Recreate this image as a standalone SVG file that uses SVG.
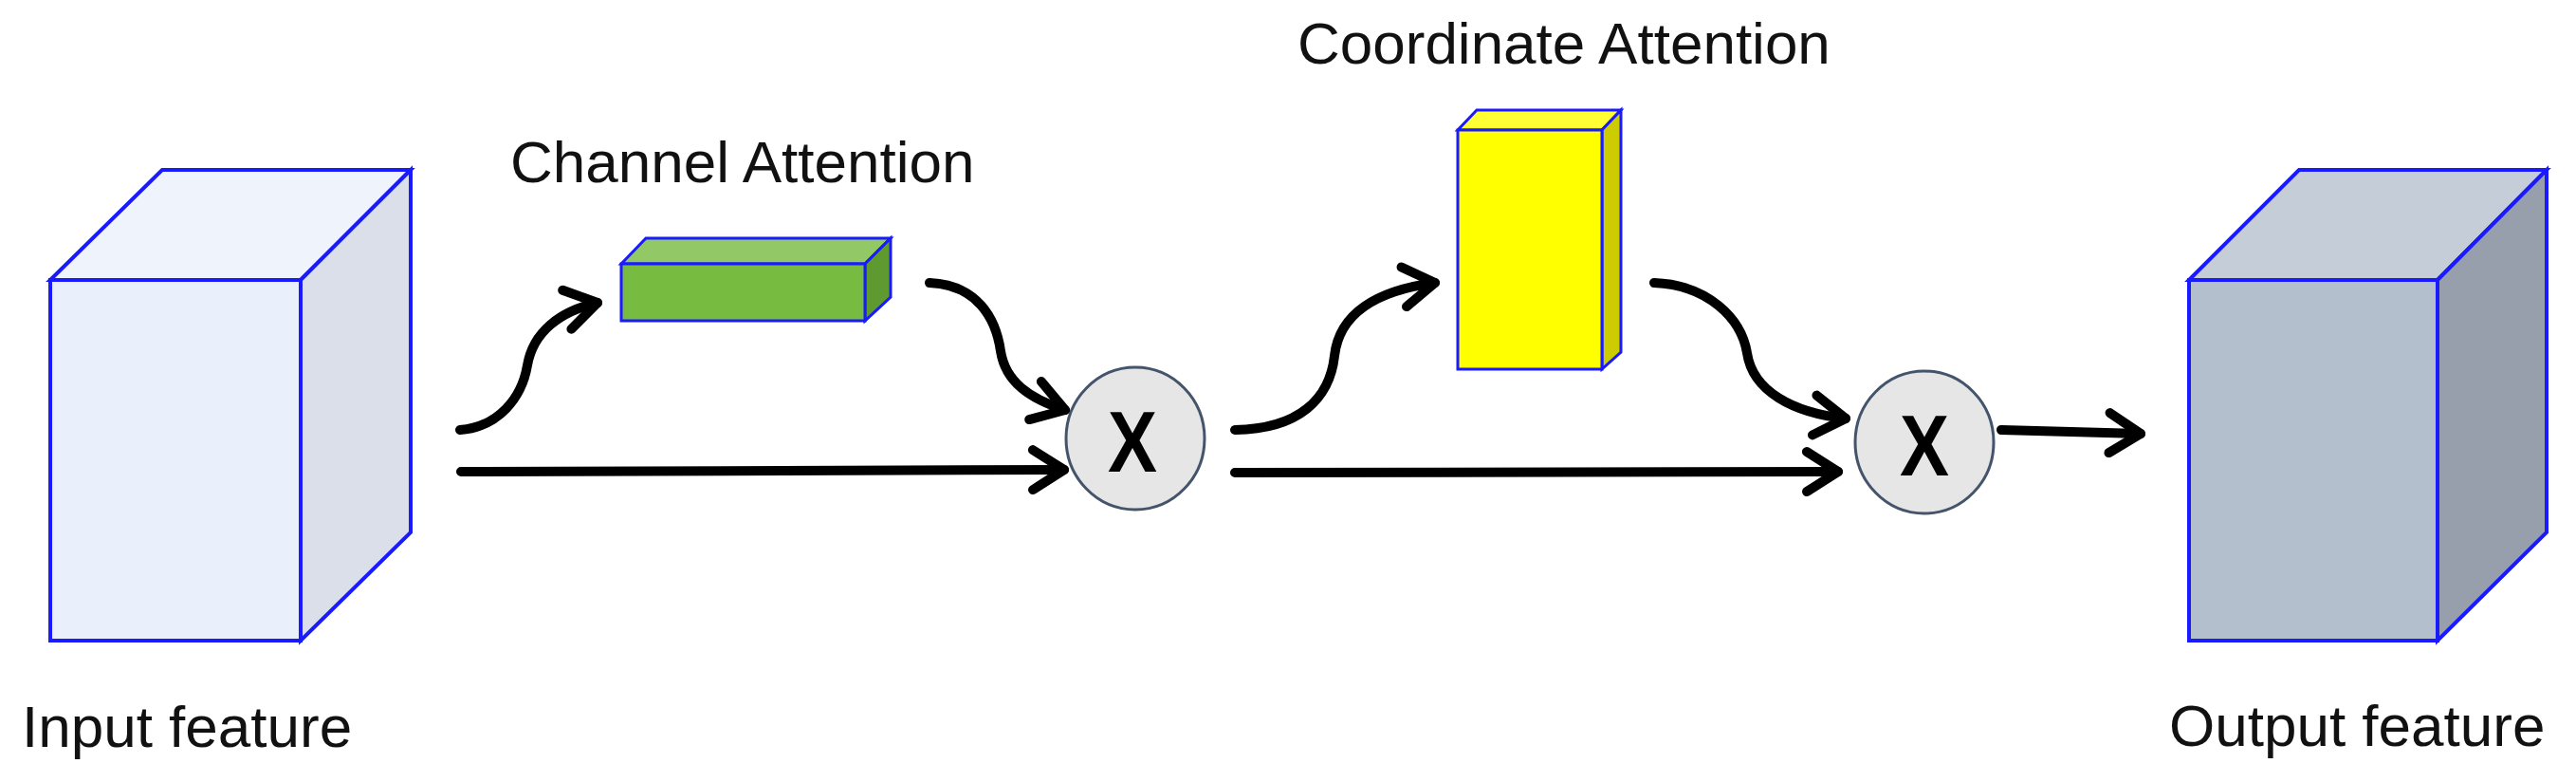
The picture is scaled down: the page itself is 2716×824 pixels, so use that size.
<svg xmlns="http://www.w3.org/2000/svg" width="2716" height="824" viewBox="0 0 2716 824">
<style>
.lbl{font-family:"Liberation Sans",Arial,sans-serif;font-size:62px;fill:#111}
.x{font-family:"Liberation Sans",Arial,sans-serif;font-size:90px;font-weight:bold;fill:#000}
.edge{stroke:#1a1aff;stroke-width:4;stroke-linejoin:miter}
.thin{stroke-width:3}
.conn{fill:none;stroke:#000;stroke-width:10;stroke-linecap:round}
.op{fill:#e6e6e6;stroke:#44546a;stroke-width:3}
</style>
<defs>
<marker id="chev" markerUnits="strokeWidth" viewBox="-5 -4 6 8" refX="0" refY="0" markerWidth="6" markerHeight="8" orient="auto" overflow="visible">
<path d="M-3.3,-2.1 L0,0 L-3.3,2.1" fill="none" stroke="#000" stroke-width="1" stroke-linecap="round" stroke-linejoin="round"/>
</marker>
</defs>
<rect width="2716" height="824" fill="#fff"/>
<g id="input-feature">
<polygon class="edge" points="53,295 171,179 433,179 317,295" fill="#eef3fc"/>
<polygon class="edge" points="317,295 433,179 433,561 317,675" fill="#dadfe9"/>
<rect class="edge" x="53" y="295" width="264" height="380" fill="#eaf0fb"/>
<text class="lbl" x="23" y="787">Input feature</text>
</g>
<g id="channel-attention">
<polygon class="edge thin" points="655,278 681,251 939,251 912,278" fill="#92c865"/>
<polygon class="edge thin" points="912,278 939,251 939,313 912,338" fill="#5e9a30"/>
<rect class="edge thin" x="655" y="278" width="257" height="60" fill="#77bb41"/>
<text class="lbl" x="538" y="192">Channel Attention</text>
</g>
<g id="coordinate-attention">
<polygon class="edge thin" points="1537,137 1557,116 1709,116 1689,137" fill="#ffff33"/>
<polygon class="edge thin" points="1689,137 1709,116 1709,371 1689,389" fill="#cccc00"/>
<rect class="edge thin" x="1537" y="137" width="152" height="252" fill="#ffff00"/>
<text class="lbl" x="1368" y="67">Coordinate Attention</text>
</g>
<g id="multiply-1">
<ellipse class="op" cx="1197" cy="462" rx="73" ry="75"/>
<text class="x" x="1168" y="497" textLength="52" lengthAdjust="spacingAndGlyphs">X</text>
</g>
<g id="multiply-2">
<ellipse class="op" cx="2029" cy="466" rx="73" ry="75"/>
<text class="x" x="2003" y="501" textLength="52" lengthAdjust="spacingAndGlyphs">X</text>
</g>
<g id="output-feature">
<polygon class="edge" points="2308,295 2424,179 2685,179 2570,295" fill="#c5cdd9"/>
<polygon class="edge" points="2570,295 2685,179 2685,561 2570,675" fill="#979fac"/>
<rect class="edge" x="2308" y="295" width="262" height="380" fill="#b4bfcd"/>
<text class="lbl" x="2287" y="786">Output feature</text>
</g>
<g id="connectors">
<path class="conn" marker-end="url(#chev)" d="M485,453 C525,450 550,420 556,385 C562,350 590,328 630,319"/>
<path class="conn" marker-end="url(#chev)" d="M980,298 C1030,300 1050,335 1055,370 C1060,402 1085,420 1123,432"/>
<path class="conn" marker-end="url(#chev)" d="M486,497 L1122,495"/>
<path class="conn" marker-end="url(#chev)" d="M1302,453 C1370,452 1402,420 1407,375 C1412,330 1452,306 1513,298"/>
<path class="conn" marker-end="url(#chev)" d="M1744,298 C1800,300 1836,335 1842,372 C1848,412 1890,435 1946,441"/>
<path class="conn" marker-end="url(#chev)" d="M1302,498 L1938,497"/>
<path class="conn" marker-end="url(#chev)" d="M2110,453 L2257,457"/>
</g>
</svg>
